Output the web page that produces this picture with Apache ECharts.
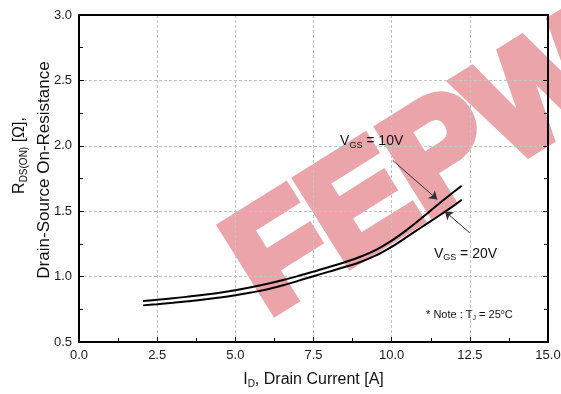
<!DOCTYPE html>
<html>
<head>
<meta charset="utf-8">
<script src="https://cdn.jsdelivr.net/npm/echarts@6/dist/echarts.min.js"></script>
<style>
  html, body { margin: 0; padding: 0; background: #fff; }
  #chart { width: 561px; height: 394px; }
</style>
</head>
<body>
<div id="chart"></div>
<script>
// drain current [A]
const currentA = [2.05, 2.5, 3, 3.5, 4, 4.5, 5, 5.5, 6, 6.5, 7, 7.5, 8, 8.5, 9, 9.5, 10, 10.5, 11, 11.5, 12, 12.24];
// RDS(on) [ohm]
const rdsVgs10 = [0.813, 0.823, 0.834, 0.847, 0.861, 0.877, 0.896, 0.918, 0.943, 0.972, 1.004, 1.038, 1.073, 1.110, 1.152, 1.205, 1.275, 1.36, 1.455, 1.555, 1.65, 1.695];
const rdsVgs20 = [0.780, 0.789, 0.800, 0.812, 0.825, 0.840, 0.857, 0.878, 0.902, 0.932, 0.967, 1.003, 1.038, 1.073, 1.112, 1.162, 1.228, 1.305, 1.385, 1.463, 1.545, 1.588];

const xTicks = [0, 2.5, 5, 7.5, 10, 12.5, 15];
const yTicks = [0.5, 1.0, 1.5, 2.0, 2.5, 3.0];

// annotation anchors, in data units
const label10V = [8.35, 2.036];
const label20V = [11.35, 1.175];
const noteAt = [11.1, 0.705];
const arrow10V = [[10.03, 1.889], [11.46, 1.59]];
const arrow20V = [[12.5, 1.334], [11.7, 1.5]];

const FONT = '"Liberation Sans", Arial, sans-serif';
const chart = echarts.init(document.getElementById('chart'));

const sub = { fontSize: 9, fontFamily: FONT, color: '#111', padding: [8, 0, 0, 0] };
const main14 = { fontSize: 14, fontFamily: FONT, color: '#111' };

const pairs = (ys) => currentA.map((x, i) => [x, ys[i]]);

const axisCommon = {
  axisLine: { show: true, onZero: false, lineStyle: { color: '#000', width: 2 } },
  axisTick: { show: true, inside: true, length: 5, lineStyle: { color: '#000', width: 1 } },
  minorTick: { show: true, splitNumber: 2, length: 4, lineStyle: { color: '#000', width: 1 } },
};
const gridLine = { show: true, lineStyle: { color: '#c4c4c4', width: 1, type: [3, 2] } };

chart.setOption({
  animation: false,
  backgroundColor: '#fff',
  grid: { left: 79, right: 13, top: 15, bottom: 52, containLabel: false, outerBoundsMode: 'none' },
  graphic: [{
    type: 'text',
    x: 424, y: 171,
    rotation: 32 * Math.PI / 180,
    z: -1,
    silent: true,
    style: {
      text: 'FEPW',
      font: 'bold 145px ' + FONT,
      fill: '#eba5aa',
      stroke: '#eba5aa',
      lineWidth: 10,
      lineJoin: 'miter',
      align: 'center', verticalAlign: 'middle',
      textAlign: 'center', textVerticalAlign: 'middle'
    }
  }],
  xAxis: [{
    type: 'value',
    min: xTicks[0], max: xTicks[xTicks.length - 1], interval: 2.5,
    position: 'bottom',
    ...axisCommon,
    axisLabel: { color: '#1a1a1a', fontSize: 13, fontFamily: FONT, margin: 7, formatter: v => v.toFixed(1) },
    splitLine: gridLine,
    name: '{r|I}{s|D}{r|, Drain Current [A]}',
    nameLocation: 'middle',
    nameGap: 28,
    nameMoveOverlap: false,
    nameTextStyle: {
      rich: {
        r: { fontSize: 16, fontFamily: FONT, color: '#111' },
        s: { fontSize: 10, fontFamily: FONT, color: '#111', padding: [9, 0, 0, 0] }
      }
    }
  }, {
    type: 'value',
    min: xTicks[0], max: xTicks[xTicks.length - 1], interval: 2.5,
    position: 'top',
    axisLine: { show: true, onZero: false, lineStyle: { color: '#000', width: 2 } },
    axisTick: { show: false }, axisLabel: { show: false }, splitLine: { show: false }
  }],
  yAxis: [{
    type: 'value',
    min: yTicks[0], max: yTicks[yTicks.length - 1], interval: 0.5,
    position: 'left',
    ...axisCommon,
    axisLabel: { color: '#1a1a1a', fontSize: 13, fontFamily: FONT, margin: 7, formatter: v => v.toFixed(1) },
    splitLine: gridLine,
    name: '{p1|}{r|R}{s|DS(ON)}{r| [Ω],}\n{p2|}{d|Drain-Source On-Resistance}',
    nameLocation: 'middle',
    nameRotate: 90,
    nameGap: 23,
    nameMoveOverlap: false,
    nameTextStyle: {
      rich: {
        r: { fontSize: 16, fontFamily: FONT, color: '#111', lineHeight: 24 },
        d: { fontSize: 17, fontFamily: FONT, color: '#111', lineHeight: 24 },
        s: { fontSize: 10, fontFamily: FONT, color: '#111', padding: [9, 0, 0, 0] },
        p1: { width: 46 },
        p2: { width: 17 }
      }
    }
  }, {
    type: 'value',
    min: yTicks[0], max: yTicks[yTicks.length - 1], interval: 0.5,
    position: 'right',
    ...axisCommon,
    axisLabel: { show: false }, splitLine: { show: false }
  }],
  series: [{
    name: 'VGS = 10V',
    type: 'line',
    z: 4,
    smooth: 0.4,
    showSymbol: false,
    data: pairs(rdsVgs10),
    lineStyle: { color: '#000', width: 2 },
    markPoint: {
      silent: true,
      symbol: 'circle', symbolSize: 0,
      label: { show: true, position: 'right', distance: 0, rich: { m: main14, s: sub } },
      data: [
        { coord: label10V, label: { formatter: '{m|V}{s|GS}{m| = 10V}' } },
        { coord: label20V, label: { formatter: '{m|V}{s|GS}{m| = 20V}' } },
        { coord: noteAt, label: {
            formatter: '{n|* Note : T}{j|J}{n| = 25}{o|o}{n|C}',
            rich: {
              n: { fontSize: 11, fontFamily: FONT, color: '#111' },
              j: { fontSize: 7, fontFamily: FONT, color: '#111', padding: [6, 0, 0, 0] },
              o: { fontSize: 7, fontFamily: FONT, color: '#111', padding: [0, 0, 6, 0] }
            } } }
      ]
    },
    markLine: {
      silent: true,
      symbol: ['none', 'arrow'],
      symbolSize: 8,
      label: { show: false },
      lineStyle: { color: '#333', width: 1, type: 'solid' },
      data: [
        [{ coord: arrow10V[0] }, { coord: arrow10V[1] }],
        [{ coord: arrow20V[0] }, { coord: arrow20V[1] }]
      ]
    }
  }, {
    name: 'VGS = 20V',
    type: 'line',
    z: 4,
    smooth: 0.4,
    showSymbol: false,
    data: pairs(rdsVgs20),
    lineStyle: { color: '#000', width: 2 }
  }]
});
</script>
</body>
</html>
